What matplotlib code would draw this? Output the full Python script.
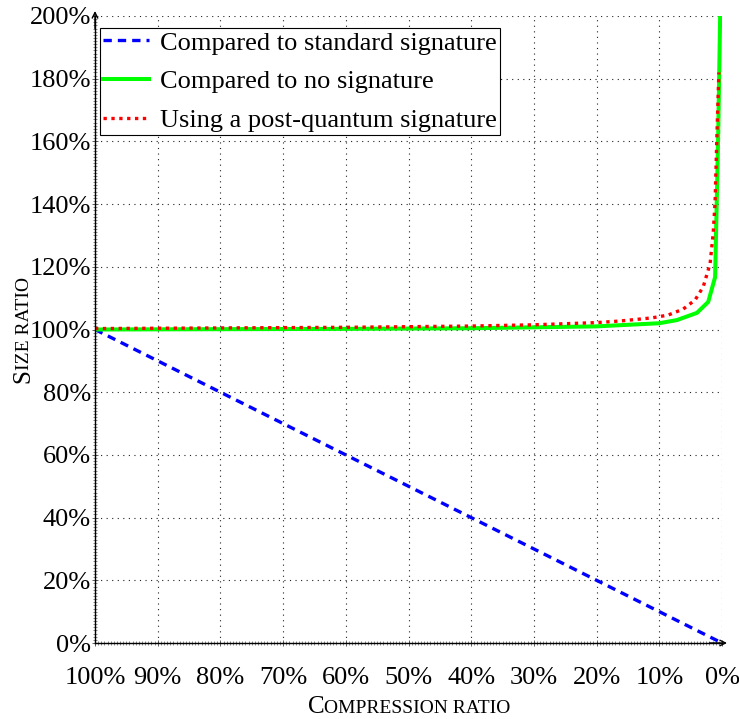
import matplotlib.pyplot as plt
from matplotlib.ticker import MultipleLocator, FuncFormatter

plt.rcParams['font.family'] = ['Liberation Serif', 'DejaVu Serif']

# compression ratio (%) and size ratio (%)
std_x = [100, 80, 60, 40, 20, 0]
std_y = [100, 80, 60, 40, 20, 0]

nosig_x = [100, 80, 60, 40, 20, 10, 7.2, 4, 2.2, 1.1, 0.6, 0.3]
nosig_y = [100, 100.1, 100.2, 100.4, 101, 102, 103, 105.3, 108.8, 116.7, 162.7, 199.5]

pq_x = [100, 80, 60, 50, 40, 30, 20, 16.3, 11.2, 8.6, 6.2, 4.3, 3, 1.9, 1.4, 1.1, 0.8, 0.5]
pq_y = [100.3, 100.5, 100.7, 100.9, 101.1, 101.5, 102.2, 102.7, 103.7, 104.6, 106.5,
        109.4, 113.6, 121, 130.8, 141, 162.7, 182]

labels = ['Compared to standard signature', 'Compared to no signature',
          'Using a post-quantum signature']

W, H = 739, 719
fig = plt.figure(figsize=(W / 100, H / 100), dpi=100)
ax = fig.add_axes([95 / W, 1 - 643 / H, (722 - 95) / W, (643 - 16) / H])

ax.plot(std_x, std_y, color='#0000ff', lw=2.4, ls=(0, (2.5, 1.8)), label=labels[0])
ax.plot(nosig_x, nosig_y, color='#00ff00', lw=2.9, label=labels[1])
ax.plot(pq_x, pq_y, color='#ff0000', lw=2.4, ls=(0, (1, 1.36)), label=labels[2])

ax.set_xlim(100, 0)
ax.set_ylim(0, 200)
ax.xaxis.set_major_locator(MultipleLocator(10))
ax.yaxis.set_major_locator(MultipleLocator(20))
ax.xaxis.set_minor_locator(MultipleLocator(0.5))
ax.yaxis.set_minor_locator(MultipleLocator(1))
pct = FuncFormatter(lambda v, p: f'{v:.0f}%')
ax.xaxis.set_major_formatter(pct)
ax.yaxis.set_major_formatter(pct)
ax.tick_params(axis='both', which='major', direction='inout', length=4, width=0.6,
               labelsize=19, color='#444444')
ax.tick_params(axis='both', which='minor', direction='inout', length=2.5, width=0.5,
               color='#555555')
ax.tick_params(axis='x', which='major', pad=15.5)
ax.tick_params(axis='y', which='major', pad=1)

ax.grid(True, which='major', ls=(0, (1, 4)), color='#222222', lw=0.8)
for s in ['top', 'right']:
    ax.spines[s].set_visible(False)
for s in ['left', 'bottom']:
    ax.spines[s].set_linewidth(1)
ax.annotate('', xy=(1.008, 0), xytext=(0.98, 0), xycoords='axes fraction',
            arrowprops=dict(arrowstyle='->', lw=1, color='k', shrinkA=0, shrinkB=0))
ax.annotate('', xy=(0, 1.008), xytext=(0, 0.98), xycoords='axes fraction',
            arrowprops=dict(arrowstyle='->', lw=1, color='k', shrinkA=0, shrinkB=0))

leg = ax.legend(loc='upper left', bbox_to_anchor=(0.008, 0.981), fontsize=19,
                frameon=True, fancybox=False, edgecolor='black', framealpha=1,
                handlelength=1.75, handletextpad=0.4, borderpad=0.12, labelspacing=0.58,
                borderaxespad=0)
leg.get_frame().set_linewidth(0.8)


def smallcaps(cx, cy, first, rest, size, vertical=False):
    t1 = fig.text(0, 0, first, fontsize=size)
    t2 = fig.text(0, 0, rest, fontsize=size * 0.78)
    r = fig.canvas.get_renderer()
    w1 = t1.get_window_extent(r).width
    w2 = t2.get_window_extent(r).width
    start = -(w1 + w2) / 2
    for t in (t1, t2):
        t.set_ha('left')
        t.set_va('baseline')
        t.set_rotation_mode('anchor')
    if vertical:
        t1.set_rotation(90)
        t2.set_rotation(90)
        t1.set_position((cx / W, 1 - (cy - start) / H))
        t2.set_position((cx / W, 1 - (cy - start - w1) / H))
    else:
        t1.set_position(((cx + start) / W, 1 - cy / H))
        t2.set_position(((cx + start + w1) / W, 1 - cy / H))


smallcaps(409, 713, 'C', 'OMPRESSION RATIO', 18)
smallcaps(29, 330, 'S', 'IZE RATIO', 18, vertical=True)

fig.savefig('out.png', dpi=100)
